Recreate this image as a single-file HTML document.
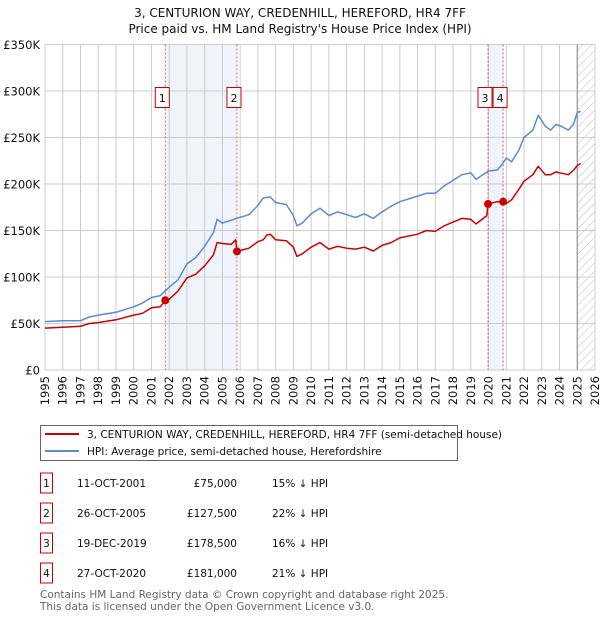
<!DOCTYPE html>
<html><head><meta charset="utf-8"><style>
body{margin:0;background:#fff;font-family:"DejaVu Sans","Liberation Sans",sans-serif;}
#wrap{position:relative;width:600px;height:620px;overflow:hidden;}
</style></head><body>
<div id="wrap">
<svg id="chart" width="600" height="620" xmlns="http://www.w3.org/2000/svg" font-family="DejaVu Sans, Liberation Sans, sans-serif">
<defs><pattern id="hatch" width="6" height="6" patternUnits="userSpaceOnUse" patternTransform="rotate(45)"><line x1="0" y1="0" x2="0" y2="6" stroke="#bbb" stroke-width="1"/></pattern></defs>
<text x="300" y="17" text-anchor="middle" font-size="12" fill="#111">3, CENTURION WAY, CREDENHILL, HEREFORD, HR4 7FF</text>
<text x="300" y="33" text-anchor="middle" font-size="12" fill="#111">Price paid vs. HM Land Registry's House Price Index (HPI)</text>
<g id="plot"></g>
<g>
<rect x="40.5" y="425.5" width="417" height="35" fill="#fff" stroke="#666"/>
<line x1="45" y1="434" x2="79" y2="434" stroke="#cc0000" stroke-width="2"/>
<text x="87" y="438" font-size="10.5" fill="#111">3, CENTURION WAY, CREDENHILL, HEREFORD, HR4 7FF (semi-detached house)</text>
<line x1="45" y1="451" x2="79" y2="451" stroke="#5b8bd0" stroke-width="2"/>
<text x="87" y="455" font-size="10.5" fill="#111">HPI: Average price, semi-detached house, Herefordshire</text>
</g>
<g id="table" font-size="10.5" fill="#111"></g>
<text x="40" y="598" font-size="10.5" fill="#666">Contains HM Land Registry data © Crown copyright and database right 2025.</text>
<text x="40" y="610" font-size="10.5" fill="#666">This data is licensed under the Open Government Licence v3.0.</text>
</svg>
</div>
<script>
const yTicks=[0,50,100,150,200,250,300,350];
const yTickLabels=["£0","£50K","£100K","£150K","£200K","£250K","£300K","£350K"];
const years=[1995,1996,1997,1998,1999,2000,2001,2002,2003,2004,2005,2006,2007,2008,2009,2010,2011,2012,2013,2014,2015,2016,2017,2018,2019,2020,2021,2022,2023,2024,2025,2026];
const hpiT=[1995,1996,1997,1997.5,1998,1999,2000,2000.5,2001,2001.5,2002,2002.5,2003,2003.5,2004,2004.5,2004.7,2005,2005.8,2006.5,2007,2007.3,2007.7,2008,2008.6,2009,2009.2,2009.5,2010,2010.5,2011,2011.5,2012,2012.5,2013,2013.5,2014,2014.5,2015,2016,2016.5,2017,2017.5,2018,2018.5,2019,2019.3,2020,2020.5,2020.8,2021,2021.3,2021.7,2022,2022.5,2022.8,2023.2,2023.5,2023.8,2024,2024.5,2024.8,2025,2025.2];
const hpiV=[52,53,53,57,59,62,68,72,78,80,89,97,114,121,133,148,162,158,163,167,177,185,186,180,178,166,155,158,168,174,166,170,167,164,168,163,170,176,181,187,190,190,198,204,210,212,205,214,215,222,228,224,236,250,258,274,262,258,264,263,258,265,277,278];
const ppT=[1995,1996,1997,1997.5,1998,1999,2000,2000.5,2001,2001.5,2001.78,2002,2002.5,2003,2003.5,2004,2004.5,2004.7,2005,2005.5,2005.75,2005.82,2006.5,2007,2007.3,2007.5,2007.7,2008,2008.6,2009,2009.2,2009.5,2010,2010.5,2011,2011.5,2012,2012.5,2013,2013.5,2014,2014.5,2015,2016,2016.5,2017,2017.5,2018,2018.5,2019,2019.3,2019.9,2019.97,2020.5,2020.82,2021,2021.3,2021.7,2022,2022.5,2022.8,2023.2,2023.5,2023.8,2024,2024.5,2024.8,2025,2025.2];
const ppV=[45,46,47,50,51,54,59,61,67,68,75,76,85,99,103,112,124,137,136,135,140,127.5,131,138,140,145,146,140,139,132,122,125,132,137,130,133,131,130,132,128,134,137,142,146,150,149,155,159,163,162,157,166,178.5,181,181,179,183,194,203,210,219,210,210,213,212,210,215,220,222];
const saleLabels=["1","2","3","4"];
const saleT=[2001.78,2005.82,2019.97,2020.82];
const saleV=[75,127.5,178.5,181];
const saleDates=["11-OCT-2001","26-OCT-2005","19-DEC-2019","27-OCT-2020"];
const salePrices=["£75,000","£127,500","£178,500","£181,000"];
const saleHpi=["15% ↓ HPI","22% ↓ HPI","16% ↓ HPI","21% ↓ HPI"];
const forecastStart=2025.0;

const X0=45,X1=595,Y0=370,Y1=44.5,T0=1995,T1=2026,VMAX=350;
const xs=t=>X0+(t-T0)/(T1-T0)*(X1-X0);
const ys=v=>Y0-v/VMAX*(Y0-Y1);
const NS="http://www.w3.org/2000/svg";
const plot=document.getElementById('plot');
function mk(tag,attrs,parent){const e=document.createElementNS(NS,tag);for(const k in attrs)e.setAttribute(k,attrs[k]);(parent||plot).appendChild(e);return e;}

// shaded bands
let b=mk('rect',{x:xs(saleT[0]),y:Y1,width:xs(saleT[1])-xs(saleT[0]),height:Y0-Y1,fill:'#eef3fc'});


b=mk('rect',{x:xs(saleT[2]),y:Y1,width:xs(saleT[3])-xs(saleT[2]),height:Y0-Y1,fill:'#eef3fc'});


// hatch
b=mk('rect',{x:xs(forecastStart),y:Y1,width:X1-xs(forecastStart),height:Y0-Y1,fill:'url(#hatch)'});


// grid
years.forEach(y=>{const l=mk('line',{x1:xs(y),x2:xs(y),y1:Y1,y2:Y0,stroke:'#cccccc','stroke-width':1});


const t=mk('text',{x:0,y:0,'font-size':11.5,fill:'#111','text-anchor':'end',transform:`translate(${xs(y)+4},${Y0+6}) rotate(-90)`});t.textContent=y;

});
yTicks.forEach((v,i)=>{const l=mk('line',{x1:X0,x2:X1,y1:ys(v),y2:ys(v),stroke:'#cccccc','stroke-width':1});


const t=mk('text',{x:40,y:ys(v)+4.5,'font-size':11.5,fill:'#111','text-anchor':'end'});t.textContent=yTickLabels[i];

});
let fl=mk('line',{x1:xs(forecastStart),x2:xs(forecastStart),y1:Y1,y2:Y0,stroke:'#888','stroke-width':1});


// sale lines
saleT.forEach((t,i)=>{const l=mk('line',{x1:xs(t),x2:xs(t),y1:Y1,y2:Y0,stroke:'#e06060','stroke-width':1,'stroke-dasharray':'2,2'});

});
// series
function path(T,V){return T.map((t,i)=>(i?'L':'M')+xs(t).toFixed(1)+','+ys(V[i]).toFixed(1)).join('');}
let p=mk('path',{d:path(hpiT,hpiV),fill:'none',stroke:'#5b8bd0','stroke-width':1.5,'stroke-linejoin':'round'});


p=mk('path',{d:path(ppT,ppV),fill:'none',stroke:'#cc0000','stroke-width':1.5,'stroke-linejoin':'round'});


saleT.forEach((t,i)=>{const c=mk('circle',{cx:xs(t),cy:ys(saleV[i]),r:4,fill:'#cc0000'});


const g=mk('g',{});


const bx=xs(t)+4-14;
mk('rect',{x:bx,y:87.5,width:14,height:20,fill:'#fff',stroke:'#cc0000'},g);
const tx=mk('text',{x:bx+7,y:102,'font-size':11,'text-anchor':'middle',fill:'#111'},g);tx.textContent=saleLabels[i];});
// table
const tb=document.getElementById('table');
const rowY=[483,513,543,573];
saleLabels.forEach((s,i)=>{const g=mk('g',{},tb);


mk('rect',{x:40.5,y:rowY[i]-10,width:12,height:20,fill:'#fff',stroke:'#cc0000'},g);
let t=mk('text',{x:46.5,y:rowY[i]+4,'text-anchor':'middle'},g);t.textContent=s;
t=mk('text',{x:77,y:rowY[i]+4},g);t.textContent=saleDates[i];
t=mk('text',{x:237,y:rowY[i]+4,'text-anchor':'end'},g);t.textContent=salePrices[i];
t=mk('text',{x:272,y:rowY[i]+4},g);t.textContent=saleHpi[i];});
</script>
</body></html>
